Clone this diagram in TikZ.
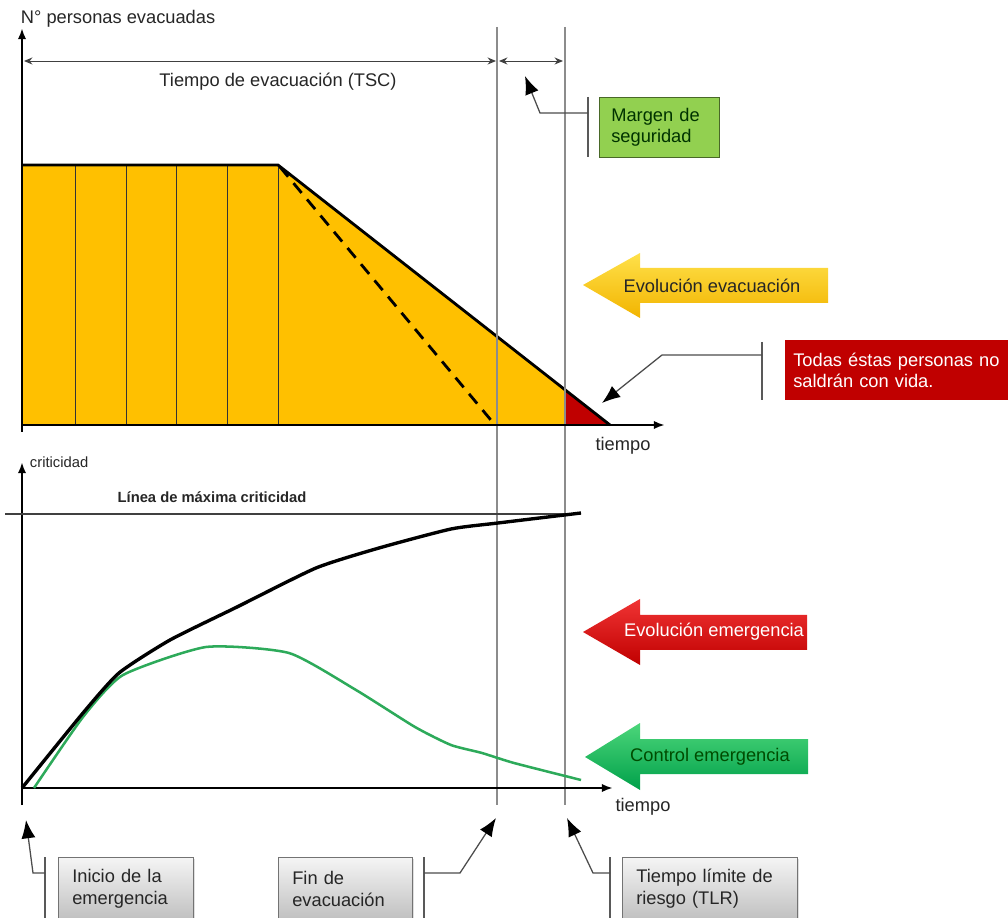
\documentclass[tikz,border=0pt]{standalone}
\usepackage{fontspec}
\setmainfont{Liberation Sans}
\usetikzlibrary{arrows.meta,shadows}
\definecolor{evacorange}{HTML}{FFC000}
\definecolor{deathred}{HTML}{C00000}
\definecolor{safegreen}{HTML}{92D050}
\definecolor{ctrlgreen}{HTML}{2DAA5A}
\definecolor{guidegray}{HTML}{8C8C8C}
\definecolor{evacyellow}{HTML}{FFE14A}
\definecolor{evacgold}{HTML}{F2B400}
\definecolor{emergred}{HTML}{F03434}
\definecolor{ctrllight}{HTML}{4CD67A}
\definecolor{ctrldark}{HTML}{00A04A}
\begin{document}
\begin{tikzpicture}[x=0.025cm,y=-0.025cm,
    every node/.style={font=\fontsize{13}{15.5}\selectfont,text=black!85},
    small/.style={font=\fontsize{10.5}{12}\selectfont},
    axis/.style={line width=2pt,-{Latex[length=8pt,width=6pt]}},
    guide/.style={guidegray,line width=1pt},
    dim/.style={line width=0.7pt,black!75,{Stealth[length=6pt,width=5pt]}-{Stealth[length=6pt,width=5pt]}},
    bar/.style={black!65,line width=1.2pt},
    callout/.style={black!70,line width=0.9pt,-{Latex[black,length=13pt,width=10pt]}},
    greybox/.style={draw=black!55,top color=black!4,bottom color=black!25,anchor=north west,align=left,
      inner xsep=0.35cm,minimum height=1.575cm,drop shadow={opacity=0.25,shadow xshift=1pt,shadow yshift=-1pt}}]
\useasboundingbox (0,0) rectangle (1008,918);

\fill[evacorange] (22,165) -- (278,165) -- (610,425) -- (22,425) -- cycle;
\fill[deathred] (564,389) -- (610,425) -- (564,425) -- cycle;
\foreach \x in {75,126,176,227,278} \draw[black!80,line width=0.7pt] (\x,165) -- (\x,425);
\draw[line width=2pt,dash pattern=on 9pt off 6pt] (280,167) -- (495,425);
\draw[line width=2pt] (22,165) -- (278,165) -- (610,425);
\foreach \x in {497,565} \draw[guide] (\x,27) -- (\x,805);
\draw[axis] (22,432) -- (22,28);
\draw[axis] (22,425) -- (665,425);
\node (ejey1) [anchor=west] at (16,19) {N° personas evacuadas};
\node (tiempo1) at (623,446) {tiempo};

\coordinate (tscL) at (24,61);
\coordinate (tscR) at (496,61);
\coordinate (margL) at (499,61);
\coordinate (margR) at (563,61);
\draw[dim] (tscL) -- (tscR);
\draw[dim] (margL) -- (margR);
\node (tsc) at (278,82) {Tiempo de evacuación (TSC)};

\node[draw=black!50!safegreen,fill=safegreen,anchor=north west,align=left,text width=2.4cm,
  inner xsep=0.3cm,minimum height=1.5cm,text=black!80!green] (margen) at (599,97) {Margen de\\seguridad};
\coordinate (margenB) at (588,113);
\coordinate (margenT) at (525,76);
\draw[bar] (588,97) -- (588,157);
\draw[callout] (margenB) -- (540,113) -- (margenT);

\node[fill=deathred,text=white,anchor=north west,align=left,text width=5.8cm,inner xsep=0.2cm,
  minimum height=1.5cm] (muertos) at (785,340) {Todas éstas personas no\\saldrán con vida.};
\coordinate (muertosB) at (762,355);
\coordinate (muertosT) at (602,403);
\draw[bar] (762,342) -- (762,400);
\draw[callout] (muertosB) -- (662,355) -- (muertosT);

\shade[top color=evacyellow,bottom color=evacgold] (583,285) -- (640,253) -- (640,268) -- (828,268)
  -- (828,303) -- (640,303) -- (640,318) -- cycle;
\node (evac) at (712,286) {Evolución evacuación};
\shade[top color=emergred,bottom color=deathred] (583,632) -- (640,599) -- (640,615) -- (807,615)
  -- (807,650) -- (640,650) -- (640,665) -- cycle;
\node[text=white] (emerg) at (714,632) {Evolución emergencia};
\shade[top color=ctrllight,bottom color=ctrldark] (585,757) -- (640,723) -- (640,739) -- (808,739)
  -- (808,774) -- (640,774) -- (640,790) -- cycle;
\node[text=green!30!black] (control) at (710,757) {Control emergencia};

\draw[axis] (22,805) -- (22,462);
\draw[axis] (22,788) -- (613,788);
\node (ejey2) [anchor=west,small] at (25,462) {criticidad};
\node (tiempo2) at (643,807) {tiempo};
\draw[black!75,line width=1pt] (5,514) -- (580,514);
\node (maxcrit) [font=\bfseries\fontsize{10.5}{12}\selectfont] at (212,497) {Línea de máxima criticidad};
\draw[ctrlgreen,line width=1.8pt,line join=round] plot[smooth,tension=0.35] coordinates {(34,788) (83,717) (123,675)
  (206,647) (289,653) (356,690) (415,727) (451,745) (482,753) (514,763) (581,780)};
\draw[line width=2.4pt,line join=round] plot[smooth,tension=0.35] coordinates {(22,788) (83,713) (119,673) (170,640)
  (237,607) (316,568) (379,548) (451,529) (498,523) (581,513)};

\node[greybox,text width=2.675cm] (inicio) at (58,857) {Inicio de la\\emergencia};
\node[greybox,text width=2.65cm] (fin) at (278,857) {Fin de\\evacuación};
\node[greybox,text width=3.675cm] (tlr) at (622,857) {Tiempo límite de\\riesgo (TLR)};
\coordinate (inicioB) at (45,873);
\coordinate (inicioT) at (26,820);
\coordinate (finB) at (424,873);
\coordinate (finT) at (496,818);
\coordinate (tlrB) at (610,873);
\coordinate (tlrT) at (567,818);
\foreach \x in {45,424,610} \draw[bar] (\x,857) -- (\x,918);
\draw[callout] (inicioB) -- (33,873) -- (inicioT);
\draw[callout] (finB) -- (460,873) -- (finT);
\draw[callout] (tlrB) -- (593,873) -- (tlrT);
\end{tikzpicture}
\end{document}
